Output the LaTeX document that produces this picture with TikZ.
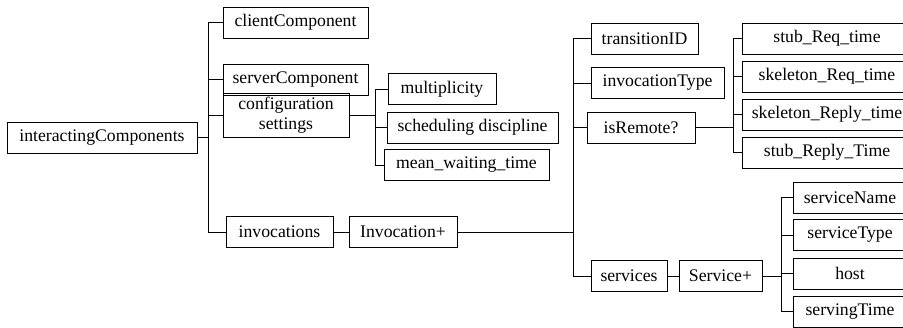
\documentclass[tikz,border=0pt]{standalone}
\usepackage{fontspec}
\setmainfont{Liberation Serif}
\begin{document}
\begin{tikzpicture}[x=1pt,y=-1pt,
    box/.style={draw,line width=0.9pt,inner sep=0pt,minimum height=31pt,
        font=\fontsize{17.7}{20}\selectfont,align=center},
    link/.style={line width=0.9pt}]
    \useasboundingbox (0,0) rectangle (903,327);
    % root and first level
    \node[box,minimum width=190pt] (root) at (102,137.5) {interactingComponents};
    \node[box,minimum width=145pt] (client) at (295.5,22.5) {clientComponent};
    \node[box,minimum width=145pt] (server) at (295.5,79.5) {serverComponent};
    \node[box,minimum width=126pt,minimum height=44pt] (config) at (286,115) {configuration\\settings};
    \node[box,minimum width=107pt] (invocs) at (279.5,232) {invocations};
        \coordinate (trunk) at (208,137.5);
        \draw[link] (root) -- (trunk);
        \draw[link] (trunk) |- (client.west);
        \draw[link] (trunk) |- (server.west);
        \draw[link] (trunk) |- (config.west);
        \draw[link] (trunk) |- (invocs.west);
    % configuration settings
    \node[box,minimum width=108pt] (mult) at (442,89) {multiplicity};
    \node[box,minimum width=171pt] (sched) at (472.5,127.5) {scheduling discipline};
    \node[box,minimum width=165pt] (mwait) at (466.5,165) {mean\_waiting\_time};
        \coordinate (cfgfork) at (375,115);
        \draw[link] (config) -- (cfgfork);
        \draw[link] (cfgfork) |- (mult.west);
        \draw[link] (cfgfork) |- (sched.west);
        \draw[link] (cfgfork) |- (mwait.west);
    % invocation
    \node[box,minimum width=108pt] (invplus) at (403,232) {Invocation+};
    \node[box,minimum width=107pt] (transid) at (644.5,38.5) {transitionID};
    \node[box,minimum width=133pt] (invtype) at (657.5,83) {invocationType};
    \node[box,minimum width=108pt] (remote) at (641,127.5) {isRemote?};
    \node[box,minimum width=76pt] (servs) at (629,276) {services};
        \draw[link] (invocs) -- (invplus);
        \coordinate (invfork) at (573,232);
        \draw[link] (invplus) -- (invfork);
        \draw[link] (invfork) |- (transid.west);
        \draw[link] (invfork) |- (invtype.west);
        \draw[link] (invfork) |- (remote.west);
        \draw[link] (invfork) |- (servs.west);
    % isRemote?
    \node[box,minimum width=170pt] (stubreq) at (827,38.5) {stub\_Req\_time};
    \node[box,minimum width=170pt] (skelreq) at (827,76.5) {skeleton\_Req\_time};
    \node[box,minimum width=170pt] (skelrep) at (827,114.5) {skeleton\_Reply\_time};
    \node[box,minimum width=170pt] (stubrep) at (827,152.5) {stub\_Reply\_Time};
        \coordinate (remfork) at (733,127.5);
        \draw[link] (remote) -- (remfork);
        \draw[link] (remfork) |- (stubreq.west);
        \draw[link] (remfork) |- (skelreq.west);
        \draw[link] (remfork) |- (skelrep.west);
        \draw[link] (remfork) |- (stubrep.west);
    % services
    \node[box,minimum width=83pt] (servplus) at (720.5,276) {Service+};
    \node[box,minimum width=114pt] (sname) at (850,197.5) {serviceName};
    \node[box,minimum width=114pt] (stype) at (850,235) {serviceType};
    \node[box,minimum width=114pt] (host) at (850,273.5) {host};
    \node[box,minimum width=114pt] (stime) at (850,311.5) {servingTime};
        \draw[link] (servs) -- (servplus);
        \coordinate (srvfork) at (781,276);
        \draw[link] (servplus) -- (srvfork);
        \draw[link] (srvfork) |- (sname.west);
        \draw[link] (srvfork) |- (stype.west);
        \draw[link] (srvfork) |- (host.west);
        \draw[link] (srvfork) |- (stime.west);
\end{tikzpicture}
\end{document}
